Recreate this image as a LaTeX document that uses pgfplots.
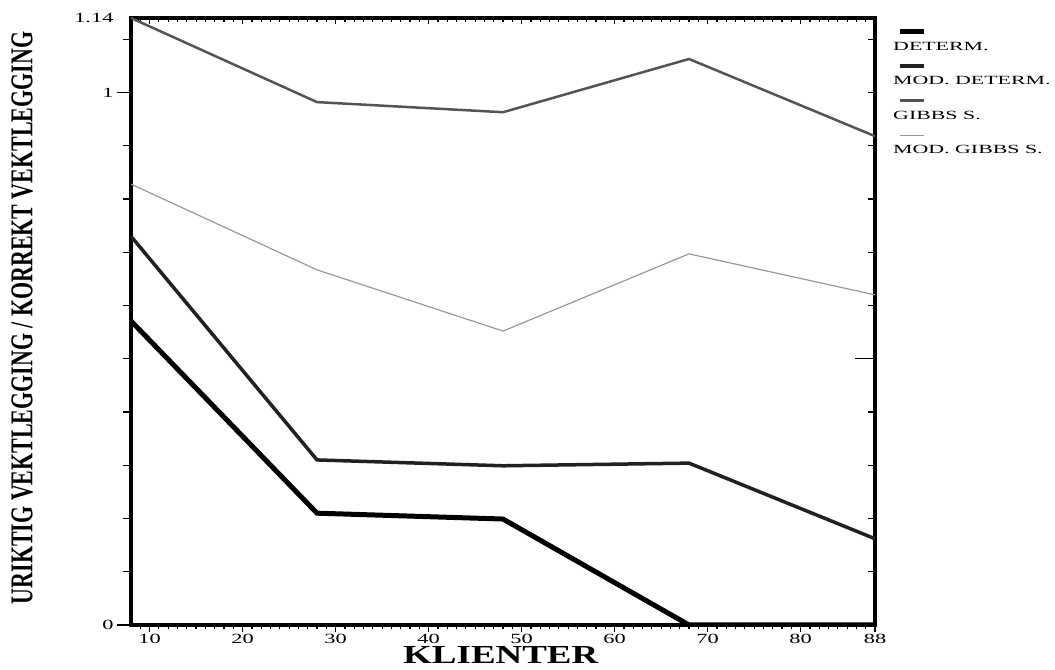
\documentclass[border=0pt]{standalone}
\usepackage{graphicx}
\usepackage{pgfplots}
\pgfplotsset{compat=1.18}
\usepackage{fontspec}
\setmainfont{Liberation Serif}
\newfontfamily\tickfont[FakeStretch=1.6]{Liberation Serif}
\newfontfamily\legfont[FakeStretch=1.75]{Liberation Serif}
\pgfplotsset{
  common/.style={at={(0,0)}, anchor=south west, scale only axis,
    width=744bp, height=607bp, xmin=8, xmax=88, ymin=0, ymax=1.14,
    tick style={black, line width=1.2bp}},
}
\begin{document}
\begin{tikzpicture}[x=1bp,y=1bp]
\useasboundingbox (-131,-45) rectangle (924,625);
% top ticks
\begin{axis}[common, axis line style={draw=none},
  xtick={10,20,...,80}, minor xtick={9,...,87}, xticklabels={},
  xtick pos=right, tick align=inside, ytick=\empty,
  major tick length=6bp, minor tick length=4bp]
\end{axis}
% right ticks
\begin{axis}[common, axis line style={draw=none},
  ytick={0.5}, minor ytick={0.1,0.2,...,1.1}, yticklabels={},
  ytick pos=right, tick align=inside, xtick=\empty,
  major tick length=20bp, minor tick length=7bp]
\end{axis}
% left ticks
\begin{axis}[common, axis line style={draw=none},
  ytick={0,1}, yticklabels={0,1}, minor ytick={0.1,0.2,...,1.1},
  ytick pos=left, tick align=outside, xtick=\empty,
  major tick length=14bp, minor tick length=8bp,
  yticklabel style={font=\tickfont\fontsize{14bp}{14bp}\selectfont},
  extra y ticks={1.14}, extra y tick labels={1.14},
  extra y tick style={major tick length=0pt, yticklabel style={xshift=-14bp}}]
\end{axis}
% main
\begin{axis}[common,
  axis line style={line width=4bp, black},
  xtick={10,20,30,40,50,60,70,80,88},
  xticklabels={10,20,30,40,50,60,70,80,88},
  minor xtick={9,...,87},
  xtick pos=left, tick align=outside, ytick=\empty,
  major tick length=7bp, minor tick length=4.5bp,
  xticklabel style={font=\tickfont\fontsize{14bp}{14bp}\selectfont, yshift=1bp},
  xlabel={\resizebox{195bp}{17bp}{\bfseries KLIENTER}},
  xlabel style={at={(axis description cs:0.497,-0.0494)}, anchor=center, inner sep=0pt},
  ylabel={\resizebox{572bp}{21bp}{\bfseries URIKTIG VEKTLEGGING / KORREKT VEKTLEGGING}},
  ylabel style={at={(axis description cs:-0.1465,0.5058)}, anchor=center, inner sep=0pt},
  legend style={at={(axis description cs:1,1)}, anchor=north west,
    xshift=18bp, yshift=-23bp, draw=none, fill=none, inner sep=0pt,
    row sep=25.5bp, column sep=0pt,
    font=\legfont\fontsize{12.5bp}{12.5bp}\selectfont,
    nodes={inner sep=0pt, text height=9bp, text depth=0pt, anchor=west}},
  legend cell align=left,
  legend image code/.code={\draw[#1,overlay] (7bp,14bp) -- (31bp,14bp);},
]
\addplot[black, line width=5bp] coordinates {(8,0.571) (28,0.210) (48,0.199) (68,0) (88,0)};
\addlegendentry{DETERM.}
\addplot[black!87, line width=3.5bp] coordinates {(8,0.730) (28,0.310) (48,0.299) (68,0.304) (88,0.162)};
\addlegendentry{MOD. DETERM.}
\addplot[black!67, line width=2.5bp] coordinates {(8,1.14) (28,0.982) (48,0.963) (68,1.063) (88,0.918)};
\addlegendentry{GIBBS S.}
\addplot[black!40, line width=1.2bp] coordinates {(8,0.828) (28,0.667) (48,0.552) (68,0.697) (88,0.620)};
\addlegendentry{MOD. GIBBS S.}
\end{axis}
\end{tikzpicture}
\end{document}
